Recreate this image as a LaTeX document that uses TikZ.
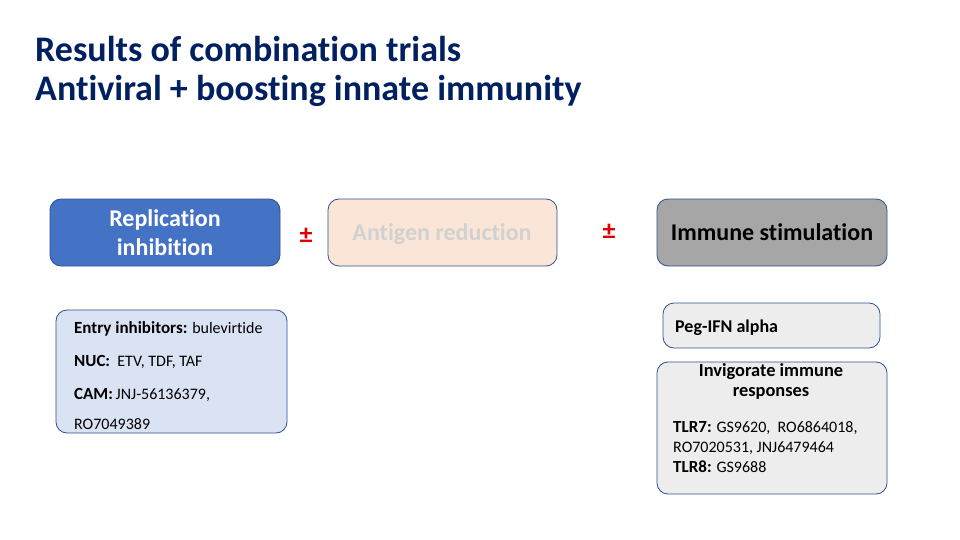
\documentclass[tikz,border=0pt]{standalone}
\usepackage{fontspec}
\setmainfont{Carlito}[Ligatures=CommonOff]
\definecolor{navy}{HTML}{002060}
\definecolor{blueA}{HTML}{4472C4}
\definecolor{blueB}{HTML}{2F528F}
\definecolor{peach}{HTML}{FBE5D6}
\definecolor{lightblue}{HTML}{DAE3F3}
\definecolor{grayA}{HTML}{A6A6A6}
\definecolor{grayB}{HTML}{EDEDED}
\definecolor{pmred}{HTML}{E00000}
\begin{document}
\begin{tikzpicture}[x=1pt,y=-1pt,
  box/.style={draw=blueB, line width=0.8pt, rounded corners=11pt},
  head/.style={anchor=base, inner sep=0, font=\fontsize{24}{29}\selectfont\bfseries},
  body/.style={anchor=base west, inner sep=0, font=\fontsize{16}{20}\selectfont},
  ttl/.style={anchor=base west, inner sep=0, text=navy, font=\fontsize{36}{40}\selectfont\bfseries},
  pm/.style={anchor=base, inner sep=0, text=pmred, font=\fontsize{26}{26}\selectfont\bfseries}]
\useasboundingbox (0,0) rectangle (960,540);
\fill[white] (0,0) rectangle (960,540);
% title
\node[ttl] (title1) at (35,62) {Results of combination trials};
\node[ttl] (title2) at (35,101) {Antiviral + boosting innate immunity};
% top boxes
\draw[box, fill=blueA] (50,199) rectangle (280,266);
\node[head, text=white] (rep1) at (165,226.5) {Replication};
\node[head, text=white] (rep2) at (165,255.5) {inhibition};
\draw[box, fill=peach] (328,199) rectangle (557,266);
\node[head, text=black!18] (ant) at (442,240) {Antigen reduction};
\draw[box, fill=grayA] (657,199) rectangle (887,266);
\node[head, text=black] (imm) at (772,240) {Immune stimulation};
\node[pm] (pm1) at (306,243) {±};
\node[pm] (pm2) at (609,239) {±};
% left detail box
\draw[box, fill=lightblue] (56,310) rectangle (287,433);
\node[body] (e1) at (74,333) {\textbf{\fontsize{17}{20}\selectfont Entry inhibitors:} bulevirtide};
\node[body] (e2) at (74,366) {\textbf{\fontsize{17}{20}\selectfont NUC:}\ \ ETV, TDF, TAF};
\node[body] (e3) at (74,399) {\textbf{\fontsize{17}{20}\selectfont CAM:}\,JNJ-56136379,};
\node[body] (e4) at (74,429) {RO7049389};
% right detail boxes
\draw[box, fill=grayB] (663,303) rectangle (880,348);
\node[body, font=\fontsize{18}{20}\selectfont\bfseries] (peg) at (675,332) {Peg-IFN alpha};
\draw[box, fill=grayB] (657,362) rectangle (887,494);
\node[anchor=base, inner sep=0, font=\fontsize{18.4}{20}\selectfont\bfseries] (inv1) at (771,376) {Invigorate immune};
\node[anchor=base, inner sep=0, font=\fontsize{18.4}{20}\selectfont\bfseries] (inv2) at (771,396) {responses};
\node[body] (t1) at (673,432) {\textbf{\fontsize{17}{20}\selectfont TLR7:} GS9620,\ \ RO6864018,};
\node[body] (t2) at (673,452) {RO7020531, JNJ6479464};
\node[body] (t3) at (673,472) {\textbf{\fontsize{17}{20}\selectfont TLR8:} GS9688};
\end{tikzpicture}
\end{document}
